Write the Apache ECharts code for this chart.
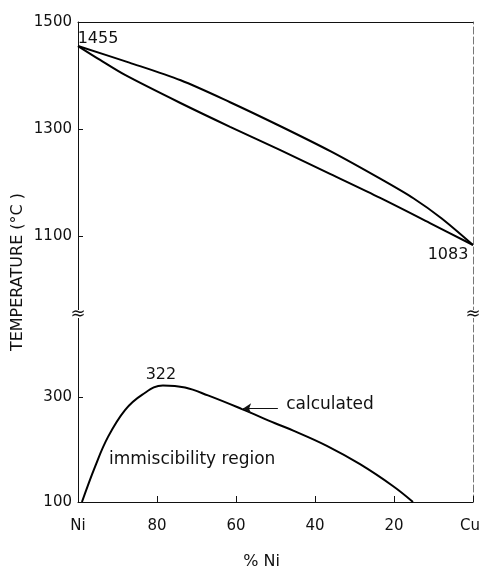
<!DOCTYPE html>
<html>
<head>
<meta charset="utf-8">
<script src="https://cdn.jsdelivr.net/npm/echarts@6/dist/echarts.min.js"></script>
<style>
    html, body { margin: 0; padding: 0; background: #fff; }
    #chart { width: 480px; height: 574px; }
</style>
</head>
<body>
<div id="chart"></div>
<script>
    // liquidus / solidus, %Ni vs temperature (°C)
    const liquidusNi = [100, 87, 74, 61.5, 49, 36, 23.5, 15, 8, 0]
    const liquidusT = [1455, 1424, 1391, 1350, 1306, 1258, 1207, 1170, 1133, 1083]
    const solidusNi = [100, 94.4, 88.1, 74.2, 61.5, 48.9, 36.2, 23.5, 10.9, 0]
    const solidusT = [1455, 1429, 1401, 1349, 1304, 1261, 1216, 1171, 1124, 1083]

    // calculated immiscibility boundary
    const gapNi = [99, 95.7, 92.4, 88.1, 83.8, 78.5, 72.9, 67.1, 58.5, 50.1, 45.5, 37, 28.6, 20.2, 15.2]
    const gapT = [100, 167, 224, 275, 304, 322, 318, 303, 277, 250, 236, 207, 172, 130, 100]

    // axis ticks
    const xTicks = [100, 80, 60, 40, 20, 0]
    const xTickLabels = ['Ni', '80', '60', '40', '20', 'Cu']
    const upperTicks = [1100, 1300, 1500]
    const lowerTicks = [100, 300]

    const chart = echarts.init(document.getElementById('chart'))
    const font = 'DejaVu Sans'
    const ink = '#111'
    const pair = (xs, ys) => xs.map((x, i) => [x, ys[i]])

    const tickLabel = { color: ink, fontFamily: font, fontSize: 15 }
    const noteLabel = { show: true, position: 'inside', color: ink, fontFamily: font, fontSize: 17 }

    const leftY = (idx, min, max, ticks) => ({
        gridIndex: idx,
        type: 'value',
        min: min,
        max: max,
        position: 'left',
        axisLine: { show: true, onZero: false, lineStyle: { color: ink, width: 1 } },
        axisTick: { show: true, inside: true, length: 5, customValues: ticks, lineStyle: { color: ink } },
        axisLabel: Object.assign({ margin: 6, customValues: ticks, formatter: v => String(v) }, tickLabel),
        splitLine: { show: false }
    })
    const rightY = (idx, min, max) => ({
        gridIndex: idx,
        type: 'value',
        min: min,
        max: max,
        position: 'right',
        axisLine: { show: true, onZero: false, lineStyle: { color: '#777', width: 1, type: [7, 3] } },
        axisTick: { show: false },
        axisLabel: { show: false },
        splitLine: { show: false }
    })

    const option = {
        animation: false,
        backgroundColor: '#fff',
        grid: [
            { left: 78, right: 7, top: 22, height: 292, containLabel: false, outerBoundsMode: 'none' },
            { left: 78, right: 7, top: 314, bottom: 72, containLabel: false, outerBoundsMode: 'none' }
        ],
        xAxis: [
            {
                gridIndex: 0,
                type: 'value',
                min: 0,
                max: 100,
                inverse: true,
                position: 'top',
                axisLine: { show: true, onZero: false, lineStyle: { color: ink } },
                axisTick: { show: false },
                axisLabel: { show: false },
                splitLine: { show: false }
            },
            {
                gridIndex: 1,
                type: 'value',
                min: 0,
                max: 100,
                interval: 20,
                inverse: true,
                position: 'bottom',
                name: '% Ni',
                nameLocation: 'middle',
                nameGap: 52,
                nameTextStyle: { color: ink, fontFamily: font, fontSize: 16, padding: [0, 28, 0, 0] },
                axisLine: { show: true, onZero: false, lineStyle: { color: ink } },
                axisTick: { show: true, inside: true, length: 6, lineStyle: { color: ink } },
                axisLabel: Object.assign({
                    margin: 17,
                    formatter: v => v === 0 ? '{end|Cu}' : xTickLabels[xTicks.indexOf(v)],
                    rich: { end: { width: 26, align: 'left', color: ink, fontFamily: font, fontSize: 15 } }
                }, tickLabel),
                splitLine: { show: false }
            }
        ],
        yAxis: [
            leftY(0, 954, 1500, upperTicks),
            rightY(0, 954, 1500),
            leftY(1, 100, 458, lowerTicks),
            rightY(1, 100, 458)
        ],
        series: [
            {
                name: 'liquidus',
                type: 'line',
                xAxisIndex: 0,
                yAxisIndex: 0,
                data: pair(liquidusNi, liquidusT),
                showSymbol: false,
                smooth: 0.3,
                lineStyle: { color: '#000', width: 2 },
                markPoint: {
                    symbolSize: 0,
                    silent: true,
                    label: Object.assign({}, noteLabel, { formatter: '{b}', fontSize: 16 }),
                    data: [
                        { name: '1455', coord: [100, 1455], label: { offset: [20, -7] } },
                        { name: '1083', coord: [0, 1083], label: { offset: [-25, 10] } }
                    ]
                }
            },
            {
                name: 'solidus',
                type: 'line',
                xAxisIndex: 0,
                yAxisIndex: 0,
                data: pair(solidusNi, solidusT),
                showSymbol: false,
                smooth: 0.3,
                lineStyle: { color: '#000', width: 2 }
            },
            {
                name: 'calculated',
                type: 'line',
                xAxisIndex: 1,
                yAxisIndex: 2,
                data: pair(gapNi, gapT),
                showSymbol: false,
                smooth: 0.4,
                lineStyle: { color: '#000', width: 2 },
                markPoint: {
                    symbolSize: 0,
                    silent: true,
                    label: Object.assign({}, noteLabel, { formatter: '{b}' }),
                    data: [
                        { name: '322', coord: [78.5, 322], label: { offset: [-2, -11], fontSize: 16 } },
                        { name: 'calculated', coord: [36.2, 285] },
                        { name: 'immiscibility region', coord: [71.1, 180] }
                    ]
                },
                markLine: {
                    silent: true,
                    symbol: ['none', 'arrow'],
                    symbolSize: 8,
                    label: { show: false },
                    lineStyle: { color: ink, width: 1, type: 'solid' },
                    data: [[{ coord: [49.4, 278] }, { coord: [58.2, 278] }]]
                }
            }
        ],
        graphic: [
            { type: 'rect', shape: { x: 73, y: 310, width: 10, height: 8 }, style: { fill: '#fff' }, z: 100 },
            { type: 'rect', shape: { x: 468, y: 310, width: 10, height: 8 }, style: { fill: '#fff' }, z: 100 },
            {
                type: 'text', x: 78, y: 314, z: 101,
                style: { text: '\u2248', fontSize: 18, fontFamily: font, fill: ink, align: 'center', verticalAlign: 'middle', textAlign: 'center', textVerticalAlign: 'middle' }
            },
            {
                type: 'text', x: 473, y: 314, z: 101,
                style: { text: '\u2248', fontSize: 18, fontFamily: font, fill: ink, align: 'center', verticalAlign: 'middle', textAlign: 'center', textVerticalAlign: 'middle' }
            },
            {
                type: 'text', x: 18, y: 272, rotation: Math.PI / 2, z: 101,
                style: { text: 'TEMPERATURE (°C )', fontSize: 16, fontFamily: font, fill: ink, align: 'center', verticalAlign: 'middle', textAlign: 'center', textVerticalAlign: 'middle' }
            }
        ]
    }

    chart.setOption(option)
    window.addEventListener('resize', () => {
        chart.resize()
    })
</script>
</body>
</html>
